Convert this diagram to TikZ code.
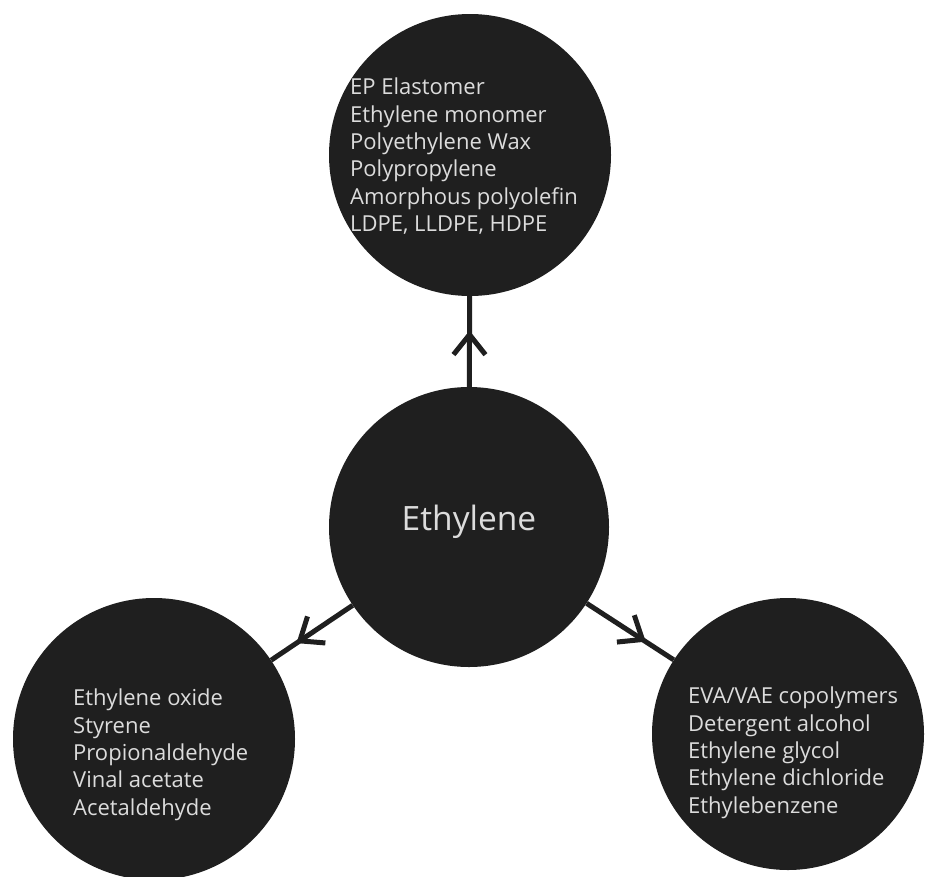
\documentclass[tikz,border=0pt]{standalone}
\usepackage{fontspec}
\setmainfont{Open Sans}
\usetikzlibrary{arrows.meta,decorations.markings}
\definecolor{discc}{HTML}{1F1F1F}
\definecolor{ink}{HTML}{DCDCDC}
\begin{document}
\begin{tikzpicture}[x=1pt,y=-1pt,
  disc/.style={circle,fill=discc,inner sep=0pt,minimum size=#1},
  listtext/.style={text=ink,align=left,anchor=north west,inner sep=0pt,
    font=\fontsize{22}{27.3}\selectfont},
  link/.style={line width=5pt,draw=discc,postaction={decorate},
    decoration={markings,mark=at position #1 with
      {\arrow[line width=5pt,discc]{Straight Barb[length=20pt,width=32pt]}}}}
]
\useasboundingbox (0,0) rectangle (926,876);
\node[disc=282pt] (top) at (470,155) {};
\node[disc=280pt] (mid) at (469,527) {};
\node[disc=282pt] (bl) at (154,739) {};
\node[disc=272pt] (br) at (788,734) {};

\draw[link=0.62] (mid) -- (top);
\draw[link=0.69] (mid) -- (bl);
\draw[link=0.68] (mid) -- (br);

\node[text=ink,font=\fontsize{33.5}{40}\selectfont] (midtext) at (469,522) {Ethylene};

\node[listtext] (toplist) at (350,78) {EP Elastomer\\Ethylene monomer\\Polyethylene Wax\\Polypropylene\\Amorphous polyolefin\\LDPE, LLDPE, HDPE};
\node[listtext] (bllist) at (73,689) {Ethylene oxide\\Styrene\\Propionaldehyde\\Vinal acetate\\Acetaldehyde};
\node[listtext] (brlist) at (688,687) {EVA/VAE copolymers\\Detergent alcohol\\Ethylene glycol\\Ethylene dichloride\\Ethylebenzene};
\end{tikzpicture}
\end{document}
